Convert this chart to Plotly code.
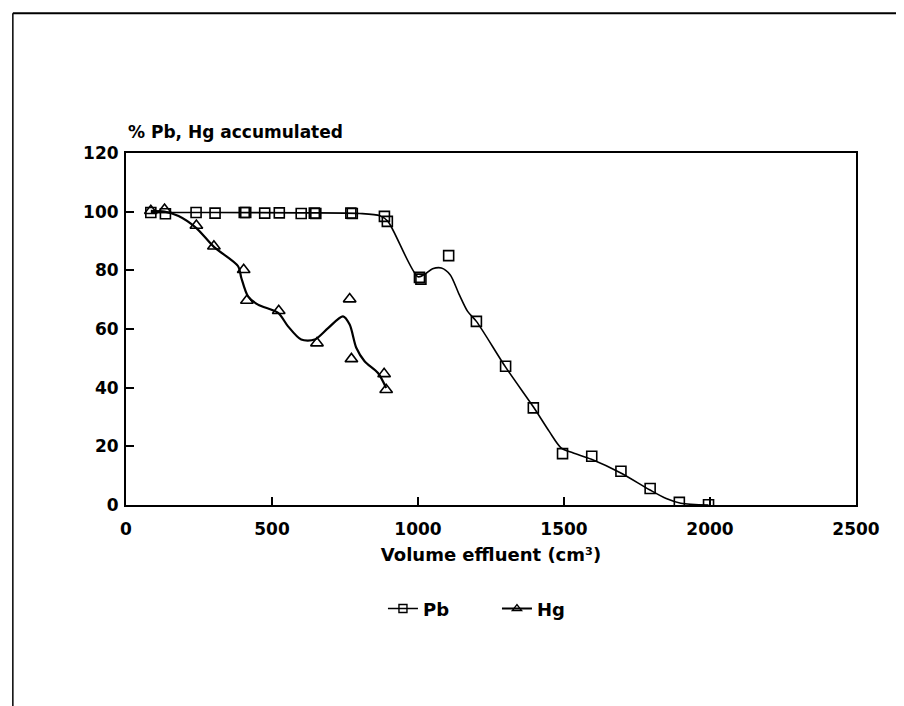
import plotly.graph_objects as go

# Measured points
pb_x = [85, 135, 240, 305, 405, 410, 475, 525, 600, 645, 650, 770, 775, 885, 895,
        1005, 1010, 1105, 1200, 1300, 1395, 1495, 1595, 1695, 1795, 1895, 1995]
pb_y = [99.7, 99.3, 99.7, 99.5, 99.7, 99.7, 99.5, 99.6, 99.4, 99.5, 99.4, 99.5, 99.4, 98.4, 96.7,
        77.6, 77.0, 85.0, 62.6, 47.3, 33.1, 17.5, 16.6, 11.5, 5.6, 0.9, 0.1]

hg_x = [85, 132, 241, 301, 403, 414, 523, 654, 766, 772, 884, 891]
hg_y = [100.3, 100.7, 95.3, 88.2, 80.2, 69.7, 66.2, 55.2, 70.2, 49.8, 44.7, 39.3]

# Fitted (smoothed) curves as drawn
pb_fit_x = [85, 300, 600, 800, 870, 897, 1000, 1025, 1050, 1080, 1110, 1140, 1170, 1200,
            1300, 1396, 1450, 1490, 1530, 1594, 1693, 1793, 1850, 1900, 1995]
pb_fit_y = [99.7, 99.7, 99.6, 99.4, 98.6, 96.7, 77.8, 78.8, 80.5, 80.8, 78.5, 72.0, 66.0, 62.6,
            47.0, 33.3, 25.0, 19.5, 17.8, 15.6, 11.0, 5.2, 2.2, 0.6, 0.0]

hg_fit_x = [85, 132, 180, 241, 301, 384, 395, 418, 452, 521, 555, 600, 646, 692, 743,
            766, 789, 817, 863, 891]
hg_fit_y = [100.3, 100.0, 98.5, 94.4, 88.0, 81.4, 77.4, 71.1, 68.3, 65.5, 60.9, 56.4, 56.4,
            60.3, 64.3, 61.5, 53.5, 49.0, 45.0, 39.9]

x_ticks = [0, 500, 1000, 1500, 2000, 2500]
y_ticks = [0, 20, 40, 60, 80, 100, 120]

FONT = "DejaVu Sans"
TICKFONT = dict(family=FONT, size=17, color="black", weight="bold")

fig = go.Figure()
fig.add_trace(go.Scatter(x=pb_fit_x, y=pb_fit_y, mode="lines",
                         line=dict(color="black", width=1.6, shape="spline", smoothing=0.8),
                         showlegend=False, hoverinfo="skip"))
fig.add_trace(go.Scatter(x=hg_fit_x, y=hg_fit_y, mode="lines",
                         line=dict(color="black", width=2.2, shape="spline", smoothing=0.8),
                         showlegend=False, hoverinfo="skip"))
fig.add_trace(go.Scatter(x=pb_x, y=pb_y, mode="markers", name="Pb", showlegend=False,
                         marker=dict(symbol="square-open", size=10, color="black", line=dict(width=1.6))))
fig.add_trace(go.Scatter(x=hg_x, y=hg_y, mode="markers", name="Hg", showlegend=False,
                         marker=dict(symbol="triangle-up-open", size=11, color="black", line=dict(width=1.6))))
# legend entries (line + marker)
fig.add_trace(go.Scatter(x=[None], y=[None], mode="lines+markers", name="Pb",
                         line=dict(color="black", width=1.6),
                         marker=dict(symbol="square-open", size=8, color="black", line=dict(width=1.4))))
fig.add_trace(go.Scatter(x=[None], y=[None], mode="lines+markers", name="Hg",
                         line=dict(color="black", width=2),
                         marker=dict(symbol="triangle-up-open", size=8, color="black", line=dict(width=1.4))))

fig.update_layout(
    width=904, height=706,
    margin=dict(l=118, r=56, t=145, b=209),
    paper_bgcolor="white", plot_bgcolor="white",
    font=dict(family=FONT, size=17, color="black"),
    showlegend=True,
    legend=dict(orientation="h", x=0.352, xanchor="left", y=-0.295, yanchor="middle",
                font=dict(family=FONT, size=18, color="black", weight="bold"),
                entrywidth=69, entrywidthmode="pixels",
                tracegroupgap=0, bgcolor="rgba(0,0,0,0)"),
    xaxis=dict(range=[0, 2500], tickvals=x_ticks, ticks="inside", ticklen=8, tickwidth=1.5,
               tickcolor="black", showline=True, linecolor="black", linewidth=2, mirror=True,
               showgrid=False, zeroline=False, tickfont=TICKFONT, ticklabelstandoff=8,
               title=dict(text="<b>Volume effluent (cm³)</b>",
                          font=dict(family=FONT, size=18, color="black"), standoff=10)),
    yaxis=dict(range=[0, 120], tickvals=y_ticks, ticks="inside", ticklen=8, tickwidth=1.5,
               tickcolor="black", showline=True, linecolor="black", linewidth=2, mirror=True,
               showgrid=False, zeroline=False, tickfont=TICKFONT, ticklabelstandoff=2),
    annotations=[dict(text="<b>% Pb, Hg accumulated</b>", xref="paper", yref="paper",
                      x=0, y=1.0, xanchor="left", yanchor="bottom", yshift=9,
                      showarrow=False, font=dict(family=FONT, size=17, color="black"))],
    shapes=[
        dict(type="line", xref="paper", yref="paper", x0=-0.155, x1=1.1, y0=1.397, y1=1.397,
             line=dict(color="black", width=2)),
        dict(type="line", xref="paper", yref="paper", x0=-0.155, x1=-0.155, y0=1.397, y1=-0.6,
             line=dict(color="black", width=1.5)),
    ],
)

fig.write_html("out.html")
